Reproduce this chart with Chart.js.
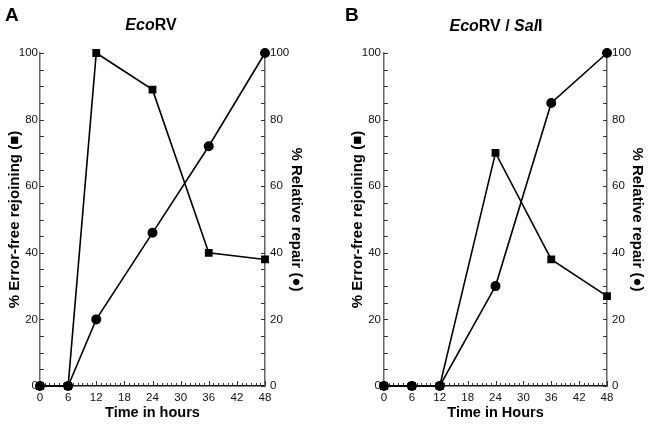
<!DOCTYPE html>
<html>
<head>
<meta charset="utf-8">
<script src="https://cdn.jsdelivr.net/npm/chart.js@4.4.1/dist/chart.umd.min.js"></script>
<style>
  body { margin: 0; background: #fff; }
  #wrap { position: relative; width: 650px; height: 426px; font-family: 'Liberation Sans', Arial, sans-serif; }
  .panel { position: absolute; top: 0; width: 325px; height: 426px; }
  .letter { position: absolute; font-weight: bold; font-size: 19px; }
  .title { position: absolute; font-weight: bold; font-size: 16px; white-space: nowrap; transform: translateX(-50%); }
</style>
</head>
<body>
<div id="wrap">
  <div class="panel" style="left:0"><canvas id="chartA" width="325" height="426"></canvas></div>
  <div class="panel" style="left:325px"><canvas id="chartB" width="325" height="426"></canvas></div>
  <div class="letter" style="left:5px;top:4px">A</div>
  <div class="letter" style="left:345px;top:4px">B</div>
  <div class="title" style="left:151px;top:16px"><i>Eco</i>RV</div>
  <div class="title" style="left:496px;top:17px"><i>Eco</i>RV / <i>Sal</i>I</div>
</div>
<script>
// time points (hours)
var hours = [0, 6, 12, 24, 36, 48];

// panel A - EcoRV
var rejoiningA = [0, 0, 100, 89, 40, 38];
var repairA = [0, 0, 20, 46, 72, 100];

// panel B - EcoRV / SalI
var rejoiningB = [0, 0, 0, 70, 38, 27];
var repairB = [0, 0, 0, 30, 85, 100];

var xTicks = [0, 6, 12, 18, 24, 30, 36, 42, 48];
var yTicks = [0, 20, 40, 60, 80, 100];

var tickFont = { family: "'Liberation Sans', Arial, sans-serif", size: 11.5 };
var titleFont = { family: "'Liberation Sans', Arial, sans-serif", size: 15, weight: 'bold' };

// inward tick marks (minor every hour / every 5 %)
var tickMarks = {
    id: 'tickMarks',
    beforeDatasetsDraw: function (chart) {
        var ctx = chart.ctx;
        var area = chart.chartArea;
        ctx.save();
        ctx.strokeStyle = '#333';
        ctx.lineWidth = 1;
        ctx.beginPath();
        var x = chart.scales.x;
        for (var h = 0; h <= 48; h++) {
            var px = Math.round(x.getPixelForValue(h)) + 0.5;
            var len = h % 6 === 0 ? 5 : 3;
            ctx.moveTo(px, area.bottom);
            ctx.lineTo(px, area.bottom - len);
        }
        var yl = chart.scales.y, yr = chart.scales.y1;
        for (var v = 0; v <= 100; v += 5) {
            var py = Math.round(yl.getPixelForValue(v)) + 0.5;
            ctx.moveTo(area.left, py);
            ctx.lineTo(area.left + 4, py);
            py = Math.round(yr.getPixelForValue(v)) + 0.5;
            ctx.moveTo(area.right, py);
            ctx.lineTo(area.right - 4, py);
        }
        ctx.stroke();
        ctx.restore();
    }
};

function points(values) {
    return hours.map(function (h, i) { return { x: h, y: values[i] }; });
}

function makeChart(id, rejoining, repair, xLabel, sizes) {
    return new Chart(id, {
        type: 'line',
        data: {
            datasets: [{
                label: 'rejoining',
                data: points(rejoining),
                yAxisID: 'y',
                borderColor: '#000',
                backgroundColor: '#000',
                borderWidth: 1.6,
                pointStyle: 'rect',
                pointRadius: 4.4,
                clip: false,
                order: 2
            }, {
                label: 'repair',
                data: points(repair),
                yAxisID: 'y1',
                borderColor: '#000',
                backgroundColor: '#000',
                borderWidth: 1.6,
                pointStyle: 'circle',
                pointRadius: 4.2,
                clip: false,
                order: 1
            }]
        },
        options: {
            responsive: false,
            animation: false,
            events: [],
            layout: { padding: { top: 53, left: 0, right: 0, bottom: 0 } },
            plugins: { legend: { display: false }, tooltip: { enabled: false } },
            scales: {
                x: {
                    type: 'linear', min: 0, max: 48,
                    afterBuildTicks: function (s) { s.ticks = xTicks.map(function (v) { return { value: v }; }); },
                    grid: { display: false, drawTicks: false },
                    border: { display: true, color: '#111', width: 1.5 },
                    ticks: { color: '#111', font: tickFont, padding: 5, maxRotation: 0, autoSkip: false },
                    title: { display: true, text: xLabel, color: '#000', font: { family: titleFont.family, size: 14.5, weight: 'bold' }, padding: { top: 0, bottom: 4 } },
                    afterFit: function (s) { s.height = 40; }
                },
                y: {
                    position: 'left', min: 0, max: 100,
                    afterBuildTicks: function (s) { s.ticks = yTicks.map(function (v) { return { value: v }; }); },
                    grid: { display: false, drawTicks: false },
                    border: { display: true, color: '#666', width: 1.5 },
                    ticks: { color: '#111', font: tickFont, padding: sizes.lp },
                    title: { display: true, text: '% Error-free rejoining (\u25A0)', color: '#000', font: titleFont, padding: { top: sizes.lt, bottom: 0 } },
                    afterFit: function (s) { s.width = sizes.lw; }
                },
                y1: {
                    position: 'right', min: 0, max: 100,
                    afterBuildTicks: function (s) { s.ticks = yTicks.map(function (v) { return { value: v }; }); },
                    grid: { display: false, drawTicks: false },
                    border: { display: true, color: '#666', width: 1.5 },
                    ticks: { color: '#111', font: tickFont, padding: 5 },
                    title: { display: true, text: '% Relative repair (\u25CF)', color: '#000', font: titleFont, padding: { top: sizes.rt, bottom: 0 } },
                    afterFit: function (s) { s.width = sizes.rw; }
                }
            }
        },
        plugins: [tickMarks]
    });
}

makeChart('chartA', rejoiningA, repairA, 'Time in hours', { lw: 40, rw: 60, lp: 2, lt: 6, rt: 20 });
makeChart('chartB', rejoiningB, repairB, 'Time in Hours', { lw: 59, rw: 43, lp: 3, lt: 24, rt: 4 });
</script>
</body>
</html>
